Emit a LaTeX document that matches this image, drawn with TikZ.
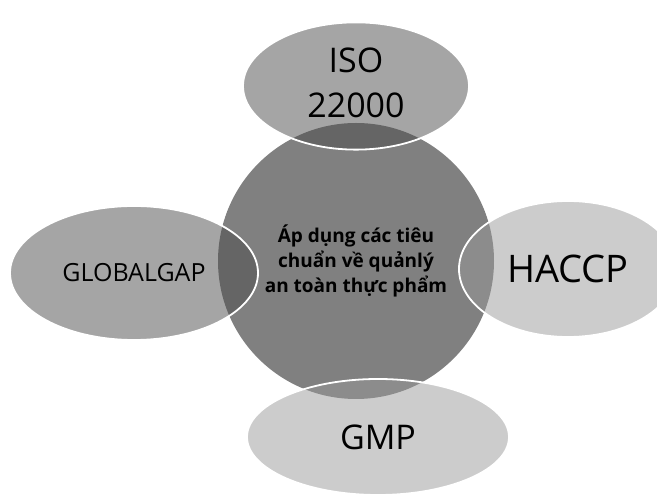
\documentclass[tikz,border=0pt]{standalone}
\usepackage{fontspec}
\setmainfont{Open Sans}
\usetikzlibrary{shapes.geometric}
\begin{document}
\begin{tikzpicture}[x=1pt,y=-1pt,
  hub/.style={circle, fill=black!50, minimum size=276pt, inner sep=0pt},
  hubtext/.style={font=\fontsize{19}{25}\selectfont\bfseries, align=center, inner sep=0pt, text=black},
  sat/.style={ellipse, draw=white, line width=1.8pt, fill opacity=0.5, text opacity=1, inner sep=0pt, align=center, text=black},
  darkfill/.style={fill=black!70},
  lightfill/.style={fill=black!40}]
\useasboundingbox (0,0) rectangle (657,494);
\node[hub] (hub) at (356,261) {};
\node[sat, darkfill, minimum width=226pt, minimum height=122pt, font=\fontsize{34}{45}\selectfont] (iso) at (356,86) {\raisebox{5pt}{\begin{tabular}{@{}c@{}}ISO\\22000\end{tabular}}};
\node[sat, lightfill, minimum width=218pt, minimum height=136pt, font=\fontsize{38}{45}\selectfont] (haccp) at (568,269) {HACCP};
\node[sat, darkfill, minimum width=248pt, minimum height=134pt, font=\fontsize{25}{30}\selectfont] (gap) at (134,273) {GLOBALGAP};
\node[sat, lightfill, minimum width=262pt, minimum height=116pt, font=\fontsize{34}{40}\selectfont] (gmp) at (378,437) {GMP};
\node[hubtext] (hubt) at (hub.center) {Áp dụng các tiêu\\chuẩn về quảnlý\\an toàn thực phẩm};
\end{tikzpicture}
\end{document}
